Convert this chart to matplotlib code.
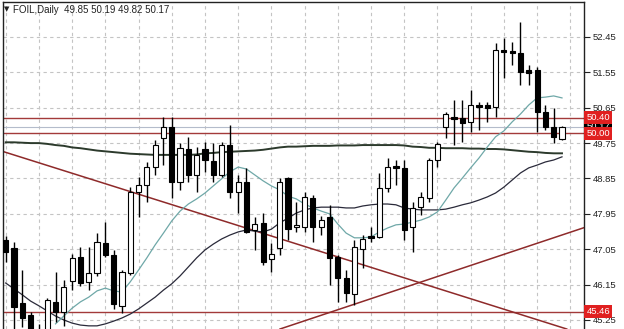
import numpy as np
import matplotlib
matplotlib.use("Agg")
import matplotlib.pyplot as plt
import matplotlib.transforms as mtransforms

plt.rcParams['font.family'] = ['Liberation Sans', 'DejaVu Sans']

# velas diarias FOIL (apertura, maximo, minimo, cierre)
opens = [47.28, 47.08, 45.68, 45.38, 44.87, 44.94, 45.71, 45.45, 46.24, 46.85,
         46.22, 46.45, 47.21, 46.90, 45.61, 46.45, 48.51, 48.68, 49.14, 49.88,
         50.16, 48.76, 49.60, 48.94, 49.60, 49.29, 48.94, 49.70, 48.51, 48.76,
         47.54, 47.72, 46.80, 47.08, 48.86, 47.62, 47.62, 48.35, 47.62, 47.87,
         46.85, 46.32, 45.91, 47.06, 47.39, 47.36, 48.61, 49.17, 49.12, 47.62,
         48.12, 48.35, 49.32, 50.16, 50.41, 50.39, 50.29, 50.72, 50.72, 50.67,
         52.12, 52.09, 52.04, 51.61, 51.61, 50.54, 50.16, 49.85]
highs = [47.39, 47.23, 46.52, 45.45, 45.15, 45.81, 46.47, 46.27, 46.93, 47.11,
         47.11, 47.46, 47.74, 47.03, 46.52, 48.63, 48.89, 49.27, 49.83, 50.41,
         50.41, 49.75, 49.91, 49.65, 49.78, 49.75, 49.78, 50.21, 48.94, 49.12,
         47.87, 47.97, 47.21, 48.86, 48.89, 48.25, 48.51, 48.43, 47.90, 48.18,
         46.90, 46.52, 47.28, 47.41, 47.62, 48.99, 49.37, 49.32, 49.32, 48.25,
         48.51, 49.37, 49.78, 50.54, 50.85, 50.85, 51.10, 50.80, 50.80, 52.30,
         52.43, 52.32, 52.83, 51.74, 51.69, 50.72, 50.64, 50.19]
lows = [46.72, 44.99, 45.07, 44.74, 44.55, 44.79, 45.20, 45.10, 46.01, 46.11,
        46.01, 46.37, 46.85, 45.53, 45.43, 46.39, 47.87, 48.25, 48.94, 49.19,
        48.35, 48.56, 48.76, 48.51, 49.02, 48.76, 48.89, 48.35, 47.97, 47.46,
        47.03, 46.65, 46.47, 46.90, 47.28, 47.49, 47.49, 47.23, 47.41, 46.14,
        45.71, 45.71, 45.63, 46.57, 47.23, 47.34, 48.51, 48.68, 47.28, 46.98,
        47.92, 48.25, 49.14, 49.88, 49.70, 49.78, 50.03, 50.08, 50.29, 50.41,
        51.41, 51.74, 51.23, 51.23, 50.03, 50.08, 49.75, 49.82]
closes = [46.98, 45.58, 45.30, 44.87, 44.70, 45.76, 45.45, 46.09, 46.83, 46.19,
          46.45, 47.23, 46.90, 45.66, 46.47, 48.51, 48.68, 49.14, 49.70, 50.16,
          48.76, 49.63, 48.94, 49.45, 49.32, 48.94, 49.70, 48.51, 48.76, 47.49,
          47.69, 46.73, 46.93, 48.76, 47.56, 47.67, 48.38, 47.62, 47.79, 46.83,
          46.32, 45.94, 47.11, 47.31, 47.34, 48.61, 49.14, 49.12, 47.54, 48.10,
          48.38, 49.32, 49.73, 50.49, 50.36, 50.26, 50.72, 50.67, 50.64, 52.12,
          52.07, 52.04, 51.56, 51.53, 50.54, 50.16, 49.91, 50.17]

# medias moviles
ma_rapida_inicio = 6
ma_rapida = [45.15, 45.35, 45.55, 45.71, 45.83, 45.99, 46.06, 45.99, 45.96, 46.22,
             46.52, 46.83, 47.16, 47.46, 47.77, 48.02, 48.20, 48.33, 48.48, 48.66,
             48.84, 49.02, 49.14, 49.09, 48.94, 48.79, 48.66, 48.56, 48.40, 48.33,
             48.20, 48.10, 48.02, 47.95, 47.69, 47.46, 47.34, 47.34, 47.36, 47.49,
             47.59, 47.67, 47.69, 47.74, 47.79, 47.87, 48.00, 48.30, 48.61, 48.86,
             49.12, 49.37, 49.65, 49.91, 50.06, 50.29, 50.49, 50.72, 50.90, 50.92,
             50.95, 50.90]
ma_lenta = [46.19, 46.04, 45.89, 45.73, 45.61, 45.48, 45.35, 45.25, 45.17, 45.12,
            45.10, 45.10, 45.15, 45.22, 45.30, 45.40, 45.53, 45.68, 45.83, 46.01,
            46.17, 46.37, 46.60, 46.83, 47.03, 47.18, 47.31, 47.41, 47.49, 47.54,
            47.51, 47.49, 47.56, 47.72, 47.84, 47.97, 48.05, 48.10, 48.12, 48.12,
            48.12, 48.10, 48.10, 48.15, 48.18, 48.20, 48.20, 48.18, 48.10, 48.07,
            48.05, 48.05, 48.05, 48.07, 48.12, 48.18, 48.23, 48.30, 48.38, 48.48,
            48.63, 48.81, 48.99, 49.12, 49.19, 49.27, 49.32, 49.40]
ma_larga = [49.77, 49.77, 49.76, 49.75, 49.75, 49.73, 49.70, 49.68, 49.64, 49.62,
            49.59, 49.56, 49.54, 49.52, 49.50, 49.48, 49.47, 49.46, 49.45, 49.45,
            49.45, 49.45, 49.45, 49.46, 49.49, 49.50, 49.52, 49.53, 49.54, 49.55,
            49.56, 49.58, 49.61, 49.64, 49.66, 49.66, 49.67, 49.68, 49.68, 49.68,
            49.69, 49.69, 49.69, 49.70, 49.70, 49.70, 49.70, 49.70, 49.69, 49.66,
            49.65, 49.63, 49.63, 49.62, 49.62, 49.62, 49.61, 49.61, 49.60, 49.60,
            49.59, 49.57, 49.55, 49.53, 49.52, 49.50, 49.49, 49.49]

# lineas de tendencia (indice de vela, precio)
tendencia_baja = [(-0.08, 49.52), (67.12, 45.05)]
tendencia_alta = [(33.04, 45.02), (69.53, 47.59)]
niveles = [50.40, 50.00, 45.46]
precio_actual = 50.17

ticks_precio = [52.45, 51.55, 50.65, 49.75, 48.85, 47.95, 47.05, 46.15, 45.25]
titulo = "FOIL,Daily  49.85 50.19 49.82 50.17"

fig = plt.figure(figsize=(6.24, 3.29), dpi=100)
ax = fig.add_axes([3 / 624, 0, 581 / 624, 327 / 329])
ax.set_xlim(-0.325, 69.65)
ax.set_ylim(45.02, 53.34)

# cuadricula punteada
for g in range(0, 70, 4):
    ax.axvline(g, color='#c4c4c4', lw=0.8, dashes=(3, 3), zorder=0)
for t in ticks_precio:
    ax.axhline(t, color='#c4c4c4', lw=0.8, dashes=(3, 3), zorder=0)

# niveles horizontales y lineas de tendencia
for n in niveles:
    ax.axhline(n, color='#a33a3a', lw=1.0, zorder=1)
ax.axhline(precio_actual, color='#b4bccb', lw=0.8, zorder=1)
ax.axline(tendencia_baja[0], tendencia_baja[1], color='#8e2a2a', lw=1.1, zorder=1)
ax.axline(tendencia_alta[0], tendencia_alta[1], color='#8e2a2a', lw=1.1, zorder=1)

# medias moviles
x = np.arange(len(closes))
ax.plot(x, ma_larga, color='#2c3a2c', lw=1.4, zorder=2)
ax.plot(x, ma_lenta, color='#2a2a3a', lw=0.9, zorder=2)
ax.plot(np.arange(ma_rapida_inicio, ma_rapida_inicio + len(ma_rapida)), ma_rapida,
        color='#6fa8a8', lw=0.9, zorder=2)

# velas
for i in range(len(closes)):
    o, h, l, c = opens[i], highs[i], lows[i], closes[i]
    ax.vlines(i, l, h, color='black', lw=1.0, zorder=3)
    color = 'white' if c >= o else 'black'
    ax.bar(i, max(abs(c - o), 0.03), bottom=min(o, c), width=0.62,
           facecolor=color, edgecolor='black', lw=0.8, zorder=4)

# ejes
for s in ['bottom']:
    ax.spines[s].set_visible(False)
for s in ['left', 'top', 'right']:
    ax.spines[s].set_color('#222222')
    ax.spines[s].set_linewidth(1.0)
ax.set_xticks([])
ax.yaxis.tick_right()
ax.set_yticks(ticks_precio)
ax.set_yticklabels([f"{t:.2f}" for t in ticks_precio])
ax.tick_params(axis='y', length=4, width=0.8, pad=2, labelsize=6.8, colors='#222222')

# etiquetas de precio a la derecha
trans = mtransforms.blended_transform_factory(ax.transAxes, ax.transData)
ax.text(1.004, precio_actual, f"{precio_actual:.2f}", transform=trans, fontsize=6.8,
        color='white', va='center', ha='left', clip_on=False, zorder=5,
        bbox=dict(boxstyle='square,pad=0.2', fc='black', ec='none'))
for n in niveles:
    ax.text(1.004, n, f"{n:.2f}", transform=trans, fontsize=6.8,
            color='white', va='center', ha='left', clip_on=False, zorder=6,
            bbox=dict(boxstyle='square,pad=0.2', fc='#e02020', ec='none'))

# titulo del grafico
fig.text(4 / 624, 1 - 9.5 / 329, "▼", fontsize=5, va='center', color='#222222',
         family=['DejaVu Sans'])
fig.text(13 / 624, 1 - 10 / 329, titulo, fontsize=7, va='center', color='#222222')

fig.savefig("out.png", dpi=100)
